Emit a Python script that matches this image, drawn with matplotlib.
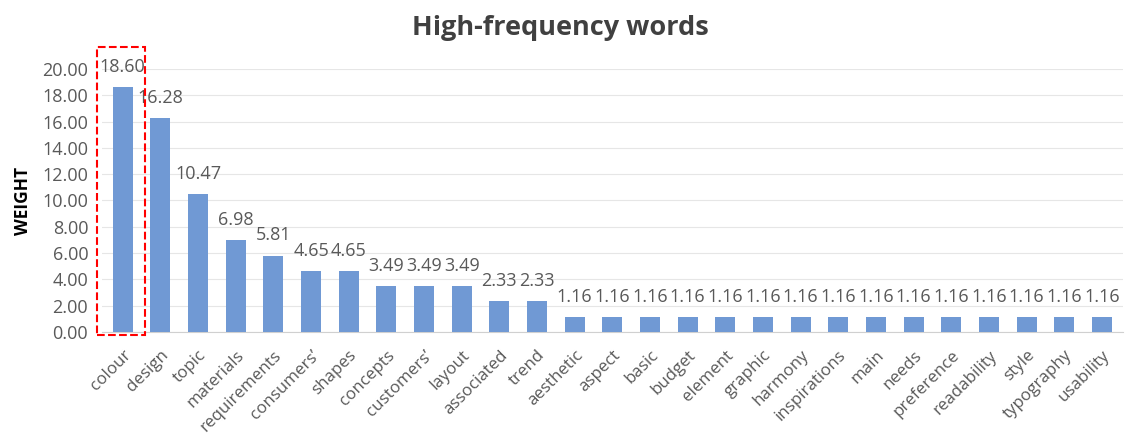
import matplotlib.pyplot as plt
from matplotlib.patches import Rectangle

words = ['colour', 'design', 'topic', 'materials', 'requirements', 'consumers\u2019',
         'shapes', 'concepts', 'customers\u2019', 'layout', 'associated', 'trend',
         'aesthetic', 'aspect', 'basic', 'budget', 'element', 'graphic', 'harmony',
         'inspirations', 'main', 'needs', 'preference', 'readability', 'style',
         'typography', 'usability']
weights = [18.60, 16.28, 10.47, 6.98, 5.81, 4.65, 4.65, 3.49, 3.49, 3.49, 2.33, 2.33,
           1.16, 1.16, 1.16, 1.16, 1.16, 1.16, 1.16, 1.16, 1.16, 1.16, 1.16, 1.16,
           1.16, 1.16, 1.16]
yticks = [0, 2, 4, 6, 8, 10, 12, 14, 16, 18, 20]

plt.rcParams['font.family'] = ['Open Sans', 'DejaVu Sans']
grey = '#595959'

fig = plt.figure(figsize=(11.26, 4.38), dpi=100)
ax = fig.add_axes([0.0906, 0.2420, 0.9064, 0.6005])

x = list(range(len(words)))
ax.bar(x, weights, width=0.53, color='#7099d4', zorder=3)
for i, w in zip(x, weights):
    ax.annotate('%.2f' % w, (i, w), xytext=(0, 14.5), textcoords='offset points',
                ha='center', va='center', fontsize=13, color=grey)

ax.set_xlim(-0.55, len(words) - 0.45)
ax.set_ylim(0, 20)
ax.set_yticks(yticks)
ax.set_yticklabels(['%.2f' % t for t in yticks], fontsize=13, color=grey)
ax.set_xticks(x)
ax.set_xticklabels(words, rotation=45, ha='right', rotation_mode='anchor',
                   fontsize=12.2, color=grey)
ax.tick_params(axis='y', length=0, pad=10)
ax.tick_params(axis='x', length=0, pad=11)
ax.grid(axis='y', color='#e6e6e6', linewidth=0.8, zorder=0)
for s in ['top', 'right', 'left']:
    ax.spines[s].set_visible(False)
ax.spines['bottom'].set_color('#d0d0d0')
ax.set_ylabel('WEIGHT', fontsize=12.5, fontweight='bold', color='black')
ax.yaxis.set_label_coords(-0.069, 0.5)

fig.text(0.498, 0.937, 'High-frequency words', ha='center', va='center',
         fontsize=19.5, fontweight='bold', color='#404040')

fig.patches.append(Rectangle((97 / 1126, 1 - 335 / 438), 48 / 1126, 288 / 438,
                             transform=fig.transFigure, fill=False, edgecolor='red',
                             linestyle='--', linewidth=1.5))

fig.savefig('out.png', dpi=100)
